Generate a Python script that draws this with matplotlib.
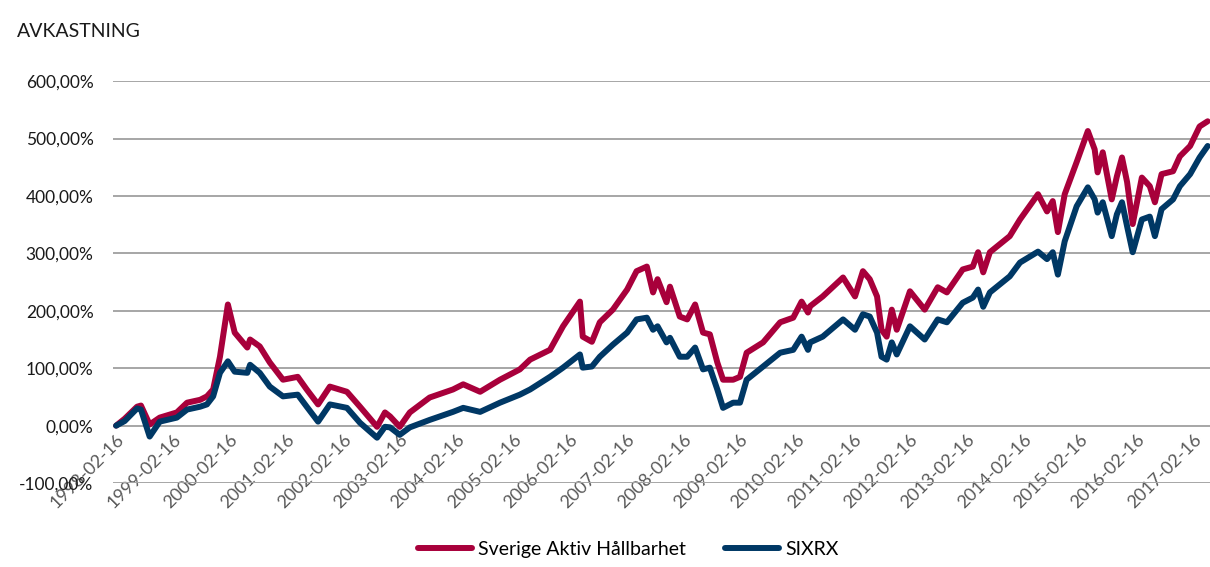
import numpy as np
import pandas as pd
import matplotlib
matplotlib.use("Agg")
import matplotlib.pyplot as plt
import matplotlib.dates as mdates
from matplotlib.ticker import FuncFormatter, FixedLocator

plt.rcParams['font.family'] = ['Lato', 'DejaVu Sans']

# dates and returns (%)
dates = [
    "1998-02-16", "1998-04-12", "1998-07-01", "1998-07-26", "1998-09-20", "1998-11-24",
    "1999-03-14", "1999-05-19", "1999-08-11", "1999-09-24", "1999-11-03", "1999-12-17",
    "2000-02-06", "2000-03-21", "2000-06-10", "2000-06-28", "2000-08-29", "2000-11-02",
    "2001-01-26", "2001-05-01", "2001-06-28", "2001-09-09", "2001-11-24", "2002-03-14",
    "2002-06-06", "2002-09-24", "2002-11-14", "2002-12-17", "2003-02-17", "2003-04-23",
    "2003-08-29", "2004-01-26", "2004-04-01", "2004-07-19", "2004-11-24", "2005-04-01",
    "2005-06-06", "2005-10-12", "2006-01-04", "2006-04-23", "2006-05-11", "2006-07-09",
    "2006-08-29", "2006-11-21", "2007-02-21", "2007-04-23", "2007-06-28", "2007-08-07",
    "2007-09-05", "2007-11-02", "2007-11-24", "2008-01-26", "2008-03-14", "2008-05-04",
    "2008-06-24", "2008-08-07", "2008-09-24", "2008-10-31", "2009-01-04", "2009-02-17",
    "2009-04-01", "2009-07-16", "2009-11-03", "2010-01-26", "2010-03-21", "2010-05-01",
    "2010-05-15", "2010-08-04", "2010-12-13", "2011-02-28", "2011-04-20", "2011-06-03",
    "2011-07-20", "2011-08-18", "2011-09-20", "2011-10-23", "2011-11-24", "2012-02-17",
    "2012-05-22", "2012-08-14", "2012-10-12", "2013-01-22", "2013-03-28", "2013-05-01",
    "2013-06-03", "2013-07-16", "2013-11-21", "2014-01-26", "2014-05-22", "2014-07-19",
    "2014-08-25", "2014-09-27", "2014-11-10", "2015-01-26", "2015-04-08", "2015-05-22",
    "2015-06-10", "2015-07-13", "2015-09-09", "2015-10-12", "2015-11-14", "2015-12-17",
    "2016-01-22", "2016-03-21", "2016-05-11", "2016-06-13", "2016-07-26", "2016-10-08",
    "2016-11-21", "2017-01-26", "2017-03-28", "2017-05-19",
]
fund = [
    0, 12, 33, 35, 2, 14,
    23, 40, 45, 51, 63, 120,
    211, 162, 136, 150, 138, 110,
    80, 85, 63, 37, 68, 59,
    33, -2, 23, 16, -2, 23,
    49, 63, 72, 59, 80, 98,
    115, 132, 173, 216, 155, 146,
    180, 202, 237, 269, 277, 232,
    255, 215, 242, 190, 185, 211,
    162, 159, 110, 80, 80, 85,
    127, 145, 180, 188, 216, 197,
    208, 225, 258, 225, 269, 255,
    225, 167, 155, 202, 167, 234,
    202, 241, 232, 272, 277, 302,
    267, 302, 330, 359, 403, 373,
    391, 337, 403, 459, 513, 481,
    441, 476, 394, 434, 467, 424,
    351, 432, 417, 389, 438, 443,
    469, 487, 521, 530,
]
sixrx = [
    0, 8, 30, 28, -19, 7,
    14, 28, 33, 37, 51, 92,
    112, 94, 92, 106, 92, 68,
    51, 54, 33, 7, 37, 31,
    5, -21, -2, -3, -16, -3,
    10, 24, 31, 24, 40, 54,
    63, 85, 101, 124, 101, 103,
    120, 141, 162, 185, 188, 167,
    173, 145, 153, 120, 120, 136,
    98, 101, 63, 31, 40, 40,
    80, 103, 127, 132, 155, 132,
    145, 155, 185, 167, 194, 190,
    162, 120, 115, 145, 124, 173,
    150, 185, 180, 214, 223, 237,
    207, 232, 260, 284, 303, 290,
    302, 263, 321, 382, 415, 394,
    371, 389, 330, 368, 389, 347,
    302, 359, 364, 330, 377, 394,
    417, 438, 467, 487,
]
tick_labels = ["%d-02-16" % y for y in range(1998, 2018)]
y_ticks = [-100, 0, 100, 200, 300, 400, 500, 600]

x = pd.to_datetime(dates)
ticks = pd.to_datetime(tick_labels)

fig = plt.figure(figsize=(12.1, 5.67), dpi=100)
ax = fig.add_axes([0.0934, 0.148, 0.9066, 0.709])

ax.plot(x, fund, color="#A8003B", lw=4.3, solid_capstyle="round",
        solid_joinstyle="round", label="Sverige Aktiv Hållbarhet", zorder=3)
ax.plot(x, sixrx, color="#003865", lw=4.3, solid_capstyle="round",
        solid_joinstyle="round", label="SIXRX", zorder=4)

ax.set_ylim(-100, 600)
ax.set_xlim(pd.Timestamp("1998-01-27"), pd.Timestamp("2017-06-03"))
ax.set_yticks(y_ticks)
ax.yaxis.set_major_formatter(FuncFormatter(lambda v, p: ("%.2f%%" % v).replace(".", ",")))
ax.grid(axis="y", color="#A6A6A6", lw=1.4)
ax.set_axisbelow(True)

ax.xaxis.set_major_locator(FixedLocator(mdates.date2num(ticks)))
ax.xaxis.set_major_formatter(FuncFormatter(lambda v, p: mdates.num2date(v).strftime("%Y-%m-%d")))
ax.spines["bottom"].set_position(("data", 0))
for s in ax.spines.values():
    s.set_visible(False)
ax.tick_params(axis="both", length=0)
ax.tick_params(axis="y", pad=14, labelsize=12.5, colors="#1a1a1a")
ax.tick_params(axis="x", pad=4, labelsize=13, colors="#595959")
plt.setp(ax.get_xticklabels(), rotation=45, ha="right", va="top", rotation_mode="anchor")

fig.text(0.014, 0.935, "AVKASTNING", fontsize=14, color="#1a1a1a")
fig.legend(loc="lower center", bbox_to_anchor=(0.519, -0.015), ncol=2, frameon=False,
           fontsize=14, handlelength=2.8, columnspacing=2.0, handletextpad=0.3)

fig.savefig("out.png", dpi=100)
